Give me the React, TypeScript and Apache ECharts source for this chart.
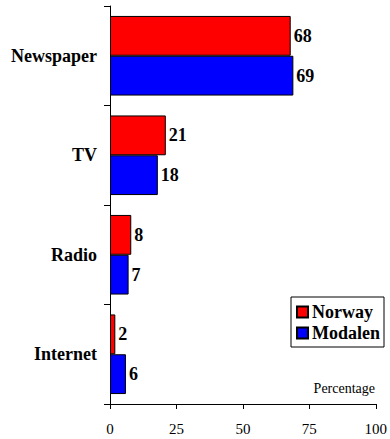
import React, { useEffect, useRef } from "react";
import * as echarts from "echarts";

const categories = ["Newspaper", "TV", "Radio", "Internet"];
const norway = [68, 21, 8, 2];
const modalen = [69, 18, 7, 6];
const seriesNames = ["Norway", "Modalen"];
const axisTitle = "Percentage";

const FONT = "'Liberation Serif', 'Times New Roman', serif";

export default function App() {
  const ref = useRef<HTMLDivElement>(null);
  useEffect(() => {
    if (!ref.current) return;
    const chart = echarts.init(ref.current, undefined, { renderer: "svg" });
    const labelStyle = {
      show: true,
      position: "right" as const,
      distance: 3,
      color: "#000",
      fontFamily: FONT,
      fontWeight: "bold" as const,
      fontSize: 18,
    };
    chart.setOption({
      animation: false,
      textStyle: { fontFamily: FONT },
      grid: { left: 110, right: 11, top: 6, bottom: 35, containLabel: false },
      xAxis: {
        type: "value",
        min: 0,
        max: 100,
        interval: 25,
        splitLine: { show: false },
        axisLine: { show: true, lineStyle: { color: "#000", width: 1 } },
        axisTick: { show: true, length: 5, lineStyle: { color: "#000" } },
        axisLabel: { color: "#000", fontFamily: FONT, fontSize: 15, margin: 17 },
      },
      yAxis: {
        type: "category",
        data: categories,
        inverse: true,
        axisLine: { show: true, lineStyle: { color: "#000", width: 1 } },
        axisTick: { show: true, length: 6, lineStyle: { color: "#000" } },
        axisLabel: {
          color: "#000",
          fontFamily: FONT,
          fontWeight: "bold",
          fontSize: 18,
          margin: 13,
        },
      },
      legend: {
        orient: "vertical",
        left: 291,
        top: 297,
        width: 93,
        borderColor: "#000",
        borderWidth: 1,
        padding: [6, 4, 5, 5],
        itemGap: 3,
        itemWidth: 11,
        itemHeight: 11,
        icon: "rect",
        textStyle: {
          color: "#000",
          fontFamily: FONT,
          fontWeight: "bold",
          fontSize: 18,
          padding: [0, 0, 0, -1],
        },
        data: seriesNames,
      },
      graphic: [
        {
          type: "text",
          right: 15,
          top: 381,
          style: {
            text: axisTitle,
            fill: "#000",
            fontFamily: FONT,
            fontSize: 14,
          },
        },
      ],
      series: [
        {
          name: seriesNames[0],
          type: "bar",
          data: norway,
          barGap: "0%",
          barCategoryGap: "20%",
          itemStyle: { color: "#ff0000", borderColor: "#000", borderWidth: 1 },
          label: labelStyle,
        },
        {
          name: seriesNames[1],
          type: "bar",
          data: modalen,
          barGap: "0%",
          barCategoryGap: "20%",
          itemStyle: { color: "#0000ff", borderColor: "#000", borderWidth: 1 },
          label: labelStyle,
        },
      ],
    });
    return () => chart.dispose();
  }, []);
  return <div ref={ref} style={{ width: 390, height: 439, position: "absolute", left: 0, top: 0 }} />;
}
